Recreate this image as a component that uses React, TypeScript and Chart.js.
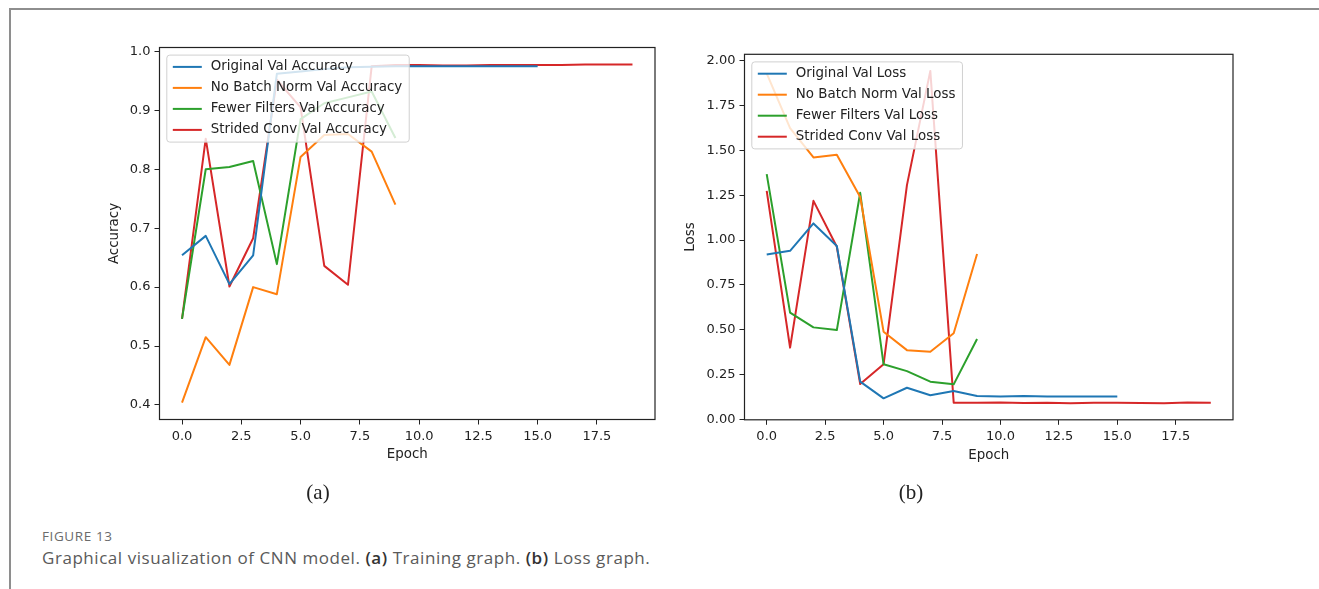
import React, { useEffect, useRef } from "react";
import { Chart, registerables } from "chart.js";

Chart.register(...registerables);

// ---------- data ----------
const EPOCHS = [0, 1, 2, 3, 4, 5, 6, 7, 8, 9, 10, 11, 12, 13, 14, 15, 16, 17, 18, 19];
const X_TICKS = [0, 2.5, 5, 7.5, 10, 12.5, 15, 17.5];

const ACC_LABELS = [
  "Original Val Accuracy",
  "No Batch Norm Val Accuracy",
  "Fewer Filters Val Accuracy",
  "Strided Conv Val Accuracy",
];
const ACC_ORIGINAL = [0.654, 0.687, 0.605, 0.654, 0.962, 0.966, 0.970, 0.973, 0.974, 0.975, 0.975, 0.975, 0.975, 0.975, 0.975, 0.975];
const ACC_NO_BN = [0.404, 0.515, 0.468, 0.600, 0.588, 0.821, 0.858, 0.860, 0.830, 0.740];
const ACC_FEWER = [0.546, 0.800, 0.804, 0.814, 0.639, 0.885, 0.912, 0.922, 0.932, 0.853];
const ACC_STRIDED = [0.546, 0.852, 0.601, 0.683, 0.952, 0.905, 0.636, 0.604, 0.975, 0.977, 0.977, 0.976, 0.976, 0.977, 0.977, 0.977, 0.977, 0.978, 0.978, 0.978];
const ACC_TICKS = [0.4, 0.5, 0.6, 0.7, 0.8, 0.9, 1.0];

const LOSS_LABELS = [
  "Original Val Loss",
  "No Batch Norm Val Loss",
  "Fewer Filters Val Loss",
  "Strided Conv Val Loss",
];
const LOSS_ORIGINAL = [0.92, 0.94, 1.093, 0.967, 0.21, 0.117, 0.176, 0.134, 0.158, 0.13, 0.128, 0.13, 0.127, 0.128, 0.127, 0.128];
const LOSS_NO_BN = [1.93, 1.625, 1.461, 1.476, 1.241, 0.489, 0.386, 0.377, 0.48, 0.922];
const LOSS_FEWER = [1.368, 0.595, 0.513, 0.498, 1.264, 0.307, 0.269, 0.21, 0.195, 0.448];
const LOSS_STRIDED = [1.275, 0.40, 1.219, 0.963, 0.197, 0.307, 1.307, 1.944, 0.093, 0.092, 0.094, 0.091, 0.093, 0.09, 0.092, 0.093, 0.091, 0.09, 0.094, 0.093];
const LOSS_TICKS = [0, 0.25, 0.5, 0.75, 1.0, 1.25, 1.5, 1.75, 2.0];

const COLORS = ["#1f77b4", "#ff7f0e", "#2ca02c", "#d62728"];

// ---------- helpers ----------
const FONT = "'DejaVu Sans', sans-serif";
const TEXT = "#222";

function toPoints(values: number[]) {
  return values.map((v, i) => ({ x: EPOCHS[i], y: v }));
}

function margins(series: number[][]) {
  const all = series.flat();
  const lo = Math.min(...all);
  const hi = Math.max(...all);
  const m = (hi - lo) * 0.05;
  return [lo - m, hi + m];
}

const decorPlugin = {
  id: "mplDecor",
  afterDatasetsDraw(chart: any) {
    const { ctx, chartArea: a } = chart;
    ctx.save();
    // spines
    ctx.strokeStyle = "#222";
    ctx.lineWidth = 1.2;
    ctx.strokeRect(a.left, a.top, a.right - a.left, a.bottom - a.top);
    // legend
    ctx.font = `13.4px ${FONT}`;
    const ds = chart.data.datasets;
    const maxW = Math.max(...ds.map((d: any) => ctx.measureText(d.label).width));
    const x0 = a.left + 7.3;
    const y0 = a.top + 7.6;
    const w = 44 + maxW + 7;
    const h = 87;
    const r = 3;
    ctx.beginPath();
    ctx.moveTo(x0 + r, y0);
    ctx.lineTo(x0 + w - r, y0);
    ctx.arcTo(x0 + w, y0, x0 + w, y0 + r, r);
    ctx.lineTo(x0 + w, y0 + h - r);
    ctx.arcTo(x0 + w, y0 + h, x0 + w - r, y0 + h, r);
    ctx.lineTo(x0 + r, y0 + h);
    ctx.arcTo(x0, y0 + h, x0, y0 + h - r, r);
    ctx.lineTo(x0, y0 + r);
    ctx.arcTo(x0, y0, x0 + r, y0, r);
    ctx.closePath();
    ctx.fillStyle = "rgba(255,255,255,0.8)";
    ctx.fill();
    ctx.strokeStyle = "#d0d0d0";
    ctx.lineWidth = 1;
    ctx.stroke();
    ds.forEach((d: any, i: number) => {
      const cy = y0 + 11.8 + i * 21;
      ctx.beginPath();
      ctx.moveTo(x0 + 6, cy);
      ctx.lineTo(x0 + 35, cy);
      ctx.strokeStyle = d.borderColor;
      ctx.lineWidth = 2;
      ctx.stroke();
      ctx.fillStyle = TEXT;
      ctx.textBaseline = "middle";
      ctx.textAlign = "left";
      ctx.fillText(d.label, x0 + 44, cy);
    });
    ctx.restore();
  },
};

type Cfg = {
  labels: string[];
  series: number[][];
  yTicks: number[];
  yDigits: number;
  yTitle: string;
  yAxisW: number;
  yTitlePad: number;
  top: number;
  right: number;
  bottom: number;
};

function buildChart(canvas: HTMLCanvasElement, cfg: Cfg) {
  const [ymin, ymax] = margins(cfg.series);
  const [xmin, xmax] = margins([EPOCHS]);
  const tickFont = { family: FONT, size: 13 };
  const titleFont = { family: FONT, size: 13.4 };
  const grid = {
    display: true,
    drawOnChartArea: false,
    drawTicks: true,
    tickLength: 5,
    tickWidth: 1,
    tickColor: "#222",
  };
  return new Chart(canvas, {
    type: "line",
    data: {
      datasets: cfg.series.map((s, i) => ({
        label: cfg.labels[i],
        data: toPoints(s),
        borderColor: COLORS[i],
        backgroundColor: COLORS[i],
        borderWidth: 2,
        pointRadius: 0,
        tension: 0,
        fill: false,
        borderJoinStyle: "round" as const,
      })),
    },
    options: {
      responsive: false,
      animation: false,
      events: [],
      layout: { padding: { left: 0, top: cfg.top, right: cfg.right, bottom: cfg.bottom } },
      plugins: { legend: { display: false }, tooltip: { enabled: false } },
      scales: {
        x: {
          type: "linear",
          min: xmin,
          max: xmax,
          afterBuildTicks: (s: any) => {
            s.ticks = X_TICKS.map((v) => ({ value: v }));
          },
          afterFit: (s: any) => {
            s.height = 45;
          },
          ticks: {
            autoSkip: false,
            maxRotation: 0,
            padding: 4,
            color: TEXT,
            font: tickFont,
            callback: (v: any) => Number(v).toFixed(1),
          },
          grid,
          border: { display: false },
          title: { display: true, text: "Epoch", color: TEXT, font: titleFont, padding: 1.5 },
        },
        y: {
          type: "linear",
          min: ymin,
          max: ymax,
          afterBuildTicks: (s: any) => {
            s.ticks = cfg.yTicks.map((v) => ({ value: v }));
          },
          afterFit: (s: any) => {
            s.width = cfg.yAxisW;
          },
          ticks: {
            autoSkip: false,
            padding: 4,
            color: TEXT,
            font: tickFont,
            callback: (v: any) => Number(v).toFixed(cfg.yDigits),
          },
          grid,
          border: { display: false },
          title: { display: true, text: cfg.yTitle, color: TEXT, font: titleFont, padding: cfg.yTitlePad },
        },
      },
    },
    plugins: [decorPlugin],
  } as any);
}

function Plot(props: { cfg: Cfg; left: number; width: number; height: number }) {
  const ref = useRef<HTMLCanvasElement | null>(null);
  useEffect(() => {
    if (!ref.current) return;
    const chart = buildChart(ref.current, props.cfg);
    return () => chart.destroy();
  }, []);
  return (
    <canvas
      ref={ref}
      width={props.width}
      height={props.height}
      style={{ position: "absolute", left: props.left, top: 0, width: props.width, height: props.height }}
    />
  );
}

const ACC_CFG: Cfg = {
  labels: ACC_LABELS,
  series: [ACC_ORIGINAL, ACC_NO_BN, ACC_FEWER, ACC_STRIDED],
  yTicks: ACC_TICKS,
  yDigits: 1,
  yTitle: "Accuracy",
  yAxisW: 159.5,
  yTitlePad: 106,
  top: 47.5,
  right: 680 - 655,
  bottom: 480 - 419.5 - 45,
};

const LOSS_CFG: Cfg = {
  labels: LOSS_LABELS,
  series: [LOSS_ORIGINAL, LOSS_NO_BN, LOSS_FEWER, LOSS_STRIDED],
  yTicks: LOSS_TICKS,
  yDigits: 2,
  yTitle: "Loss",
  yAxisW: 144.5,
  yTitlePad: 82,
  top: 54.3,
  right: 719 - 633,
  bottom: 480 - 419.8 - 45,
};

export default function App() {
  return (
    <div
      style={{
        position: "absolute",
        left: 0,
        top: 0,
        width: 1319,
        height: 589,
        background: "#fff",
        overflow: "hidden",
      }}
    >
      <div
        style={{
          position: "absolute",
          left: 9,
          top: 8,
          width: 1330,
          height: 600,
          borderTop: "2px solid #8e8e8e",
          borderLeft: "2px solid #8e8e8e",
        }}
      />
      <Plot cfg={ACC_CFG} left={0} width={680} height={480} />
      <Plot cfg={LOSS_CFG} left={600} width={719} height={480} />
      <div
        style={{
          position: "absolute",
          left: 268,
          width: 100,
          top: 479,
          textAlign: "center",
          fontFamily: "'Liberation Serif', serif",
          fontSize: 21,
          color: "#222",
          lineHeight: "26px",
        }}
      >
        (a)
      </div>
      <div
        style={{
          position: "absolute",
          left: 861,
          width: 100,
          top: 479,
          textAlign: "center",
          fontFamily: "'Liberation Serif', serif",
          fontSize: 21,
          color: "#222",
          lineHeight: "26px",
        }}
      >
        (b)
      </div>
      <div
        style={{
          position: "absolute",
          left: 42,
          top: 527,
          fontFamily: "'Open Sans', sans-serif",
          fontSize: 13.5,
          color: "#6b6b6b",
          lineHeight: "18px",
          letterSpacing: 0.6,
        }}
      >
        FIGURE 13
      </div>
      <div
        style={{
          position: "absolute",
          left: 42,
          top: 547,
          fontFamily: "'Open Sans', sans-serif",
          fontSize: 17,
          color: "#5a5a5a",
          lineHeight: "22px",
          whiteSpace: "nowrap",
          letterSpacing: 0.55,
        }}
      >
        Graphical visualization of CNN model. <b style={{ color: "#333", fontWeight: 600 }}>(a)</b> Training graph.{" "}
        <b style={{ color: "#333", fontWeight: 600 }}>(b)</b> Loss graph.
      </div>
    </div>
  );
}
